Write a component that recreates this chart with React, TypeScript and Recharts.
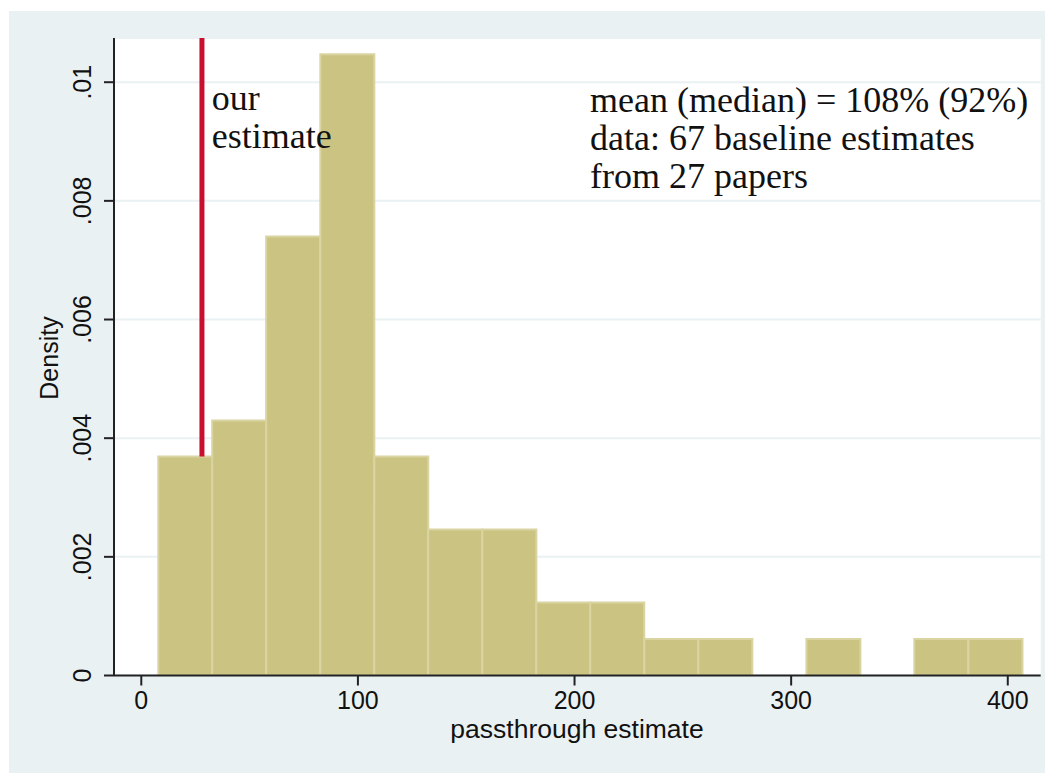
import React from "react";
import {
  BarChart,
  Bar,
  XAxis,
  YAxis,
  CartesianGrid,
  ReferenceLine,
} from "recharts";

// bin midpoints (passthrough estimate, %), bin width ~25
export const binMids = [
  20.3, 45.2, 70.1, 95.1, 120.0, 144.9, 169.9, 194.8, 219.7, 244.7, 269.6,
  294.5, 319.5, 344.4, 369.3, 394.3,
];
export const densities = [
  0.00369, 0.0043, 0.0074, 0.01047, 0.00369, 0.00246, 0.00246, 0.00123,
  0.00123, 0.000615, 0.000615, 0, 0.000615, 0, 0.000615, 0.000615,
];
export const xTicks = [0, 100, 200, 300, 400];
export const yTicks = [0, 0.002, 0.004, 0.006, 0.008, 0.01];
export const ourEstimate = 28;
export const noteLines = [
  "mean (median) = 108% (92%)",
  "data: 67 baseline estimates",
  "from 27 papers",
];

const data = binMids.map((mid, i) => ({ mid, density: densities[i] }));

const sans = "'Liberation Sans', Arial, sans-serif";
const serif = "'Liberation Serif', 'Times New Roman', serif";
const yMax = 0.010745;

const fmtY = (v: number) => (v === 0 ? "0" : String(v).replace(/^0/, ""));

function YTick(props: any) {
  const { x, y, payload } = props;
  const bx = x - 4;
  return (
    <text
      x={bx}
      y={y}
      transform={`rotate(-90, ${bx}, ${y})`}
      textAnchor="middle"
      fontFamily={sans}
      fontSize={25}
      fill="#111"
    >
      {fmtY(payload.value)}
    </text>
  );
}

export default function App() {
  return (
    <div
      style={{
        position: "relative",
        marginLeft: 1,
        marginTop: 3,
        width: 1044,
        height: 762,
        background: "#EAF1F3",
      }}
    >
      <BarChart
        width={1044}
        height={762}
        data={data}
        margin={{ top: 27, right: 12.3, left: 0, bottom: 17.5 }}
        barCategoryGap={0}
        barGap={0}
      >
        <CartesianGrid
          vertical={false}
          fill="#ffffff"
          stroke="#EAF1F3"
          strokeWidth={2}
        />
        <XAxis
          type="number"
          dataKey="mid"
          domain={[-12.6, 415.2]}
          ticks={xTicks}
          allowDataOverflow
          height={80}
          tickSize={10}
          tickMargin={6}
          axisLine={{ stroke: "#222", strokeWidth: 2 }}
          tickLine={{ stroke: "#222", strokeWidth: 2 }}
          tick={{ fontFamily: sans, fontSize: 25, fill: "#111" }}
        />
        <YAxis
          type="number"
          domain={[0, yMax]}
          ticks={yTicks}
          allowDataOverflow
          width={105}
          tickSize={10}
          tickMargin={9}
          axisLine={{ stroke: "#222", strokeWidth: 2 }}
          tickLine={{ stroke: "#222", strokeWidth: 2 }}
          tick={<YTick />}
        />
        <ReferenceLine
          segment={[
            { x: ourEstimate, y: densities[0] },
            { x: ourEstimate, y: yMax },
          ]}
          stroke="#C8102E"
          strokeWidth={5}
        />
        <Bar
          dataKey="density"
          fill="#CBC382"
          stroke="#D9D4A2"
          strokeWidth={2}
          isAnimationActive={false}
        />
      </BarChart>
      <svg
        width={1044}
        height={762}
        style={{ position: "absolute", left: 0, top: 0, pointerEvents: "none" }}
      >
        <text x={202.7} y={99} fontFamily={serif} fontSize={36} fill="#111">
          our
        </text>
        <text x={202.7} y={137} fontFamily={serif} fontSize={36} fill="#111">
          estimate
        </text>
        {noteLines.map((t, i) => (
          <text
            key={t}
            x={581}
            y={100.7 + i * 38.2}
            fontFamily={serif}
            fontSize={36}
            fill="#111"
          >
            {t}
          </text>
        ))}
        <text
          x={568}
          y={727}
          textAnchor="middle"
          fontFamily={sans}
          fontSize={26.5}
          fill="#111"
        >
          passthrough estimate
        </text>
        <text
          x={49}
          y={347}
          transform="rotate(-90, 49, 347)"
          textAnchor="middle"
          fontFamily={sans}
          fontSize={25}
          fill="#111"
        >
          Density
        </text>
      </svg>
    </div>
  );
}
